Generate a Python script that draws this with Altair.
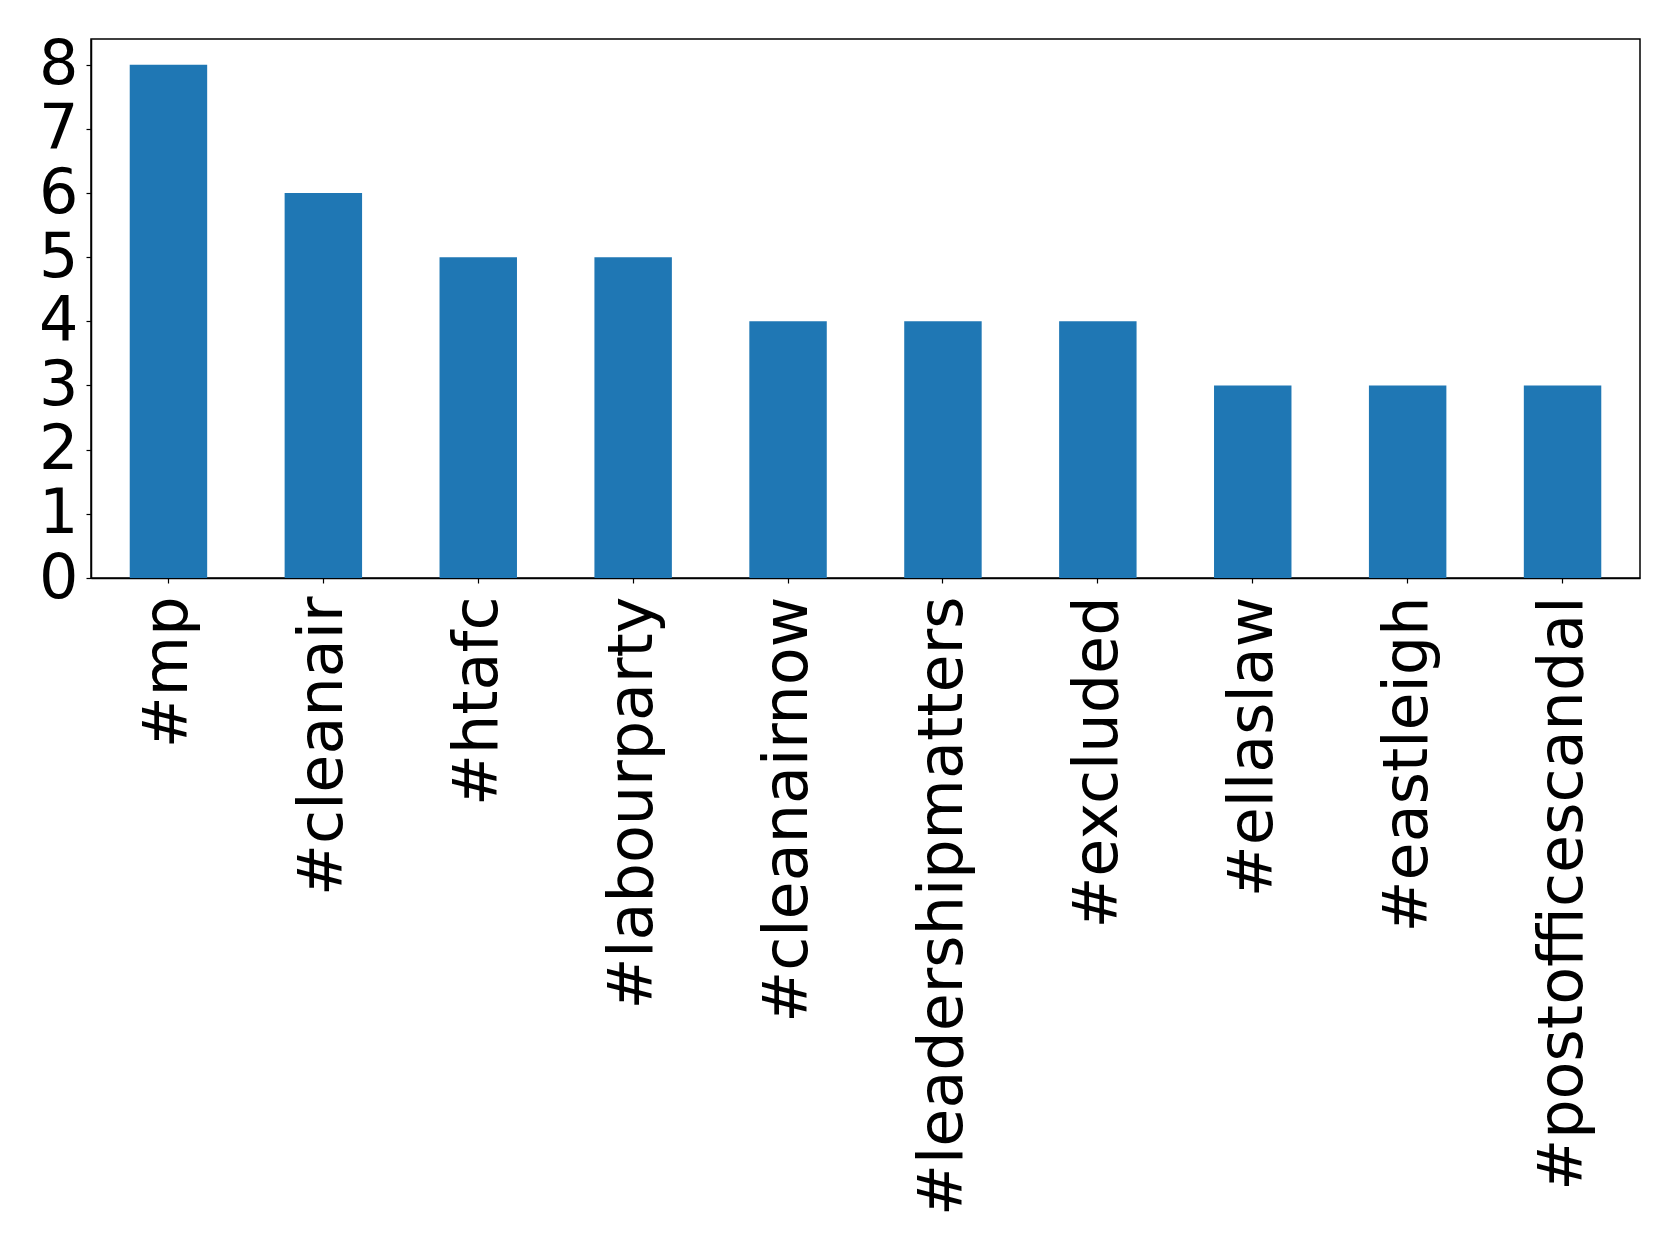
import altair as alt
import pandas as pd

hashtags = ["#mp", "#cleanair", "#htafc", "#labourparty", "#cleanairnow",
            "#leadershipmatters", "#excluded", "#ellaslaw", "#eastleigh",
            "#postofficescandal"]
counts = [8, 6, 5, 5, 4, 4, 4, 3, 3, 3]
y_ticks = [0, 1, 2, 3, 4, 5, 6, 7, 8]

df = pd.DataFrame({"tag": hashtags, "count": counts})

FONT = "DejaVu Sans"

chart = alt.Chart(df).mark_bar(color="#1f77b4").encode(
    x=alt.X("tag:N", sort=hashtags,
            scale=alt.Scale(paddingInner=0.5, paddingOuter=0.25),
            axis=alt.Axis(title=None, labelAngle=-90, labelFontSize=62,
                          labelFont=FONT, labelColor="black", labelLimit=2000,
                          labelOverlap=False, labelPadding=13, tickSize=5,
                          tickColor="black", tickWidth=1.2, domainColor="black",
                          domainWidth=1.5, labelAlign="right", labelBaseline="middle")),
    y=alt.Y("count:Q", scale=alt.Scale(domain=[0, 8.4], nice=False, zero=True),
            axis=alt.Axis(title=None, values=y_ticks, format="d", labelFontSize=62,
                          labelFont=FONT, labelColor="black", labelPadding=8,
                          tickSize=5, tickColor="black", tickWidth=1.2,
                          domainColor="black", domainWidth=1.5, grid=False,
                          labelBaseline="middle")),
).properties(
    width=1549, height=539,
    background="white",
    autosize=alt.AutoSizeParams(type="none"),
    padding={"left": 91, "top": 39, "right": 39, "bottom": 673},
).configure_view(
    stroke="black", strokeWidth=1.5
)

chart.save("out.html", embed_options={"renderer": "svg", "actions": False})
